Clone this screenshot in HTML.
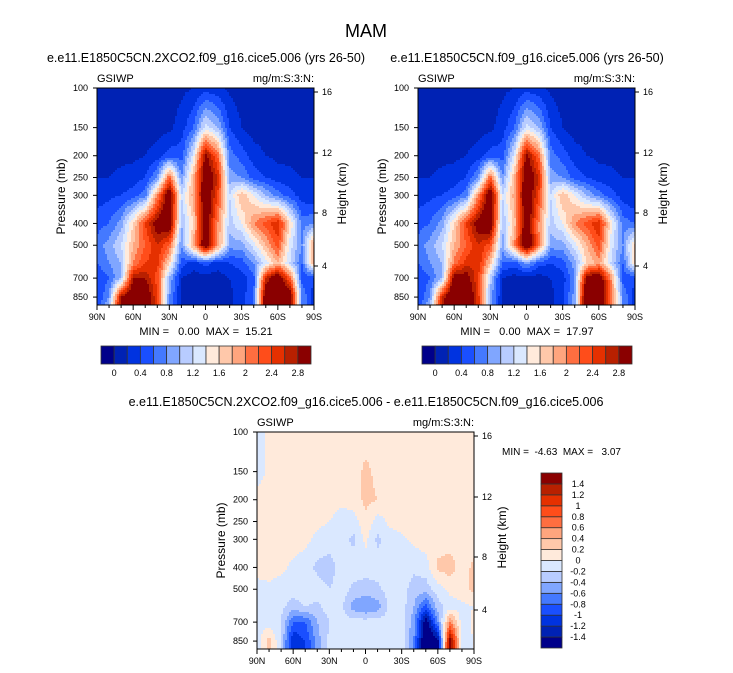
<!DOCTYPE html>
<html><head><meta charset="utf-8"><style>
body{margin:0;background:#fff;}
svg{display:block;font-family:"Liberation Sans",Helvetica,Arial,sans-serif;}
text{white-space:pre;}
</style></head><body>
<svg id="fig" width="733" height="673" viewBox="0 0 733 673" xmlns="http://www.w3.org/2000/svg">
<text x="366" y="37" font-size="18" text-anchor="middle">MAM</text>
</svg>
<script>
// ---- data ----
const latCols = [90,80,70,60,50,40,30,20,10,0,-10,-20,-30,-40,-50,-60,-70,-80,-90];
const presRows = [100,150,200,250,300,400,500,600,700,850,925];
const field1 = [
[.1,.1,.1,.1,.1,.1,.1,.15,.2,.3,.25,.15,.1,.1,.1,.1,.1,.1,.1],
[.1,.1,.1,.1,.1,.1,.15,.3,.6,1.3,1.0,.4,.2,.1,.1,.1,.1,.1,.1],
[.15,.15,.15,.15,.2,.3,.5,.5,1.3,2.9,2.2,.7,.5,.3,.2,.15,.15,.1,.1],
[.2,.2,.25,.3,.4,.8,2.2,.8,1.8,3.2,2.6,.9,.8,.5,.4,.3,.25,.2,.2],
[.3,.35,.4,.5,.7,2.0,3.2,1.2,1.9,3.2,2.4,1.2,1.8,1.4,1.0,.7,.5,.3,.2],
[.5,.6,.9,1.6,2.4,3.0,3.2,1.0,1.6,3.2,2.0,1.1,1.4,2.0,2.3,2.6,1.6,.7,.8],
[.7,.9,1.2,1.8,2.2,2.6,2.2,.8,1.9,3.2,2.0,.9,.9,1.3,1.8,2.3,1.3,.8,2.0],
[.6,.8,1.0,2.0,2.4,2.5,1.6,.5,.3,.5,.3,.4,.5,.8,1.3,1.8,1.2,.6,1.8],
[.4,.6,1.0,2.8,2.8,2.3,1.0,.2,.1,.1,.1,.2,.3,.5,2.6,3.2,2.2,.5,.4],
[.4,.8,2.8,3.2,3.2,2.4,.8,.2,.1,.1,.1,.15,.3,.6,3.2,3.4,3.2,.8,.3],
[.5,1.0,3.0,3.2,3.2,2.4,.8,.2,.1,.1,.1,.15,.3,.6,3.2,3.4,3.2,.8,.3]];
const field2 = [
[.1,.1,.1,.1,.1,.1,.1,.15,.2,.3,.25,.15,.1,.1,.1,.1,.1,.1,.1],
[.1,.1,.1,.1,.1,.1,.15,.3,.6,1.3,1.0,.4,.2,.1,.1,.1,.1,.1,.1],
[.15,.15,.15,.15,.2,.3,.5,.5,1.3,2.9,2.2,.7,.5,.3,.2,.15,.15,.1,.1],
[.2,.2,.25,.3,.4,.8,2.2,.8,1.8,3.2,2.6,.9,.8,.5,.4,.3,.25,.2,.2],
[.3,.35,.4,.5,.7,2.0,3.2,1.2,1.9,3.2,2.4,1.2,1.8,1.4,1.0,.7,.5,.3,.2],
[.5,.6,.9,1.6,2.4,3.0,3.2,1.0,1.7,3.2,2.0,1.1,1.4,2.0,2.3,2.6,1.5,.7,.6],
[.7,.9,1.2,1.8,2.2,2.6,2.3,.9,2.0,3.3,2.1,.9,.9,1.3,1.8,2.3,1.3,.8,1.7],
[.6,.8,1.0,2.1,2.5,2.6,1.7,.6,.5,.9,.5,.4,.5,.9,1.6,1.9,1.2,.6,1.6],
[.4,.6,1.0,3.0,3.0,2.4,1.1,.2,.1,.1,.1,.2,.3,.8,3.0,3.2,2.0,.5,.4],
[.4,.8,2.6,3.4,3.3,2.5,.9,.2,.1,.1,.1,.15,.3,.9,3.4,3.4,2.2,.8,.3],
[.5,1.0,2.8,3.4,3.3,2.5,.9,.2,.1,.1,.1,.15,.3,.9,3.4,3.4,2.2,.8,.3]];
const fieldDiff = [
[-.1,.05,.1,.1,.1,.1,.1,.1,.1,.1,.1,.1,.1,.1,.1,.1,.1,.1,.1],
[-.1,.05,.1,.1,.1,.1,.1,.1,.1,.25,.15,.1,.1,.1,.1,.1,.1,.1,.1],
[.1,.05,.1,.1,.1,.1,.1,.05,.1,.25,.2,.1,.1,.1,.1,.1,.1,.1,.1],
[.1,.1,.1,.1,.1,.05,0,-.1,-.1,.15,-.1,.05,.1,.1,.1,.1,.1,.1,.1],
[.1,.1,.1,.1,.05,-.05,-.1,-.1,-.25,.05,-.25,-.1,-.05,.05,.1,.1,.1,.1,.1],
[.1,.1,.05,-.05,-.1,-.25,-.3,-.1,-.1,-.1,-.1,-.1,-.1,-.15,-.1,.25,.3,.1,.25],
[-.1,-.05,-.1,-.1,-.1,-.1,-.2,-.1,-.25,-.3,-.25,-.1,-.1,-.3,-.3,-.1,.05,.1,.25],
[-.1,-.1,-.15,-.3,-.2,-.25,-.1,-.15,-.5,-.6,-.5,-.15,-.1,-.4,-.9,-.3,-.1,-.05,0],
[-.1,-.1,-.2,-.8,-.8,-.4,-.2,-.1,-.1,-.1,-.1,-.1,-.1,-.5,-1.6,-.6,.6,-.1,.05],
[-.1,.3,-.2,-1.2,-1.0,-.5,-.15,-.1,-.1,-.1,-.1,-.1,-.1,-.6,-1.8,-1.5,1.6,-.1,0],
[-.1,.3,-.2,-1.2,-1.0,-.5,-.15,-.1,-.1,-.1,-.1,-.1,-.1,-.6,-1.8,-1.5,1.6,-.1,0]];
const colors = ["#00008a","#0022b4","#0033e0","#1a4fff","#4479ff","#80a6ff","#b8ccff","#dae8ff","#ffeadb","#ffc8aa","#ffa57e","#ff6e40","#ff4d1a","#e53000","#b82000","#8a0000"];
const pTicks = [100,150,200,250,300,400,500,700,850];
const hTicks = [16,12,8,4];
const hTickPos = [4,65,125,178];
const xTickLabels = ["90N","60N","30N","0","30S","60S","90S"];
const topCbLabels = ["0","0.4","0.8","1.2","1.6","2","2.4","2.8"];
const diffCbLabels = ["1.4","1.2","1","0.8","0.6","0.4","0.2","0","-0.2","-0.4","-0.6","-0.8","-1","-1.2","-1.4"];

const NS="http://www.w3.org/2000/svg";
const svg=document.getElementById('fig');
const W=217,H=217,K=97.7;
function el(tag,attrs,parent){const e=document.createElementNS(NS,tag);for(const k in attrs)e.setAttribute(k,attrs[k]);(parent||svg).appendChild(e);return e;}
function txt(x,y,s,size,anchor,parent){const t=el('text',{x:x,y:y,'font-size':size,'text-anchor':anchor||'start'},parent);t.textContent=s;return t;}
function yOfP(p){return K*Math.log(p/100);}
function sample(grid,fx,py){
  const c=Math.max(0,Math.min(1,fx))*(latCols.length-1);const c0=Math.min(Math.floor(c),latCols.length-2);const tc=c-c0;
  const p=100*Math.exp(py/K);
  let r0=0;while(r0<presRows.length-2&&p>presRows[r0+1])r0++;
  const l0=Math.log(presRows[r0]),l1=Math.log(presRows[r0+1]);
  let tr=(Math.log(p)-l0)/(l1-l0);tr=Math.max(0,Math.min(1,tr));
  const a=grid[r0][c0]*(1-tc)+grid[r0][c0+1]*tc;
  const b=grid[r0+1][c0]*(1-tc)+grid[r0+1][c0+1]*tc;
  return a*(1-tr)+b*tr;
}
function idxTop(v){return v<0?0:Math.min(15,Math.floor(v/0.2+1e-9)+1);}
function idxDiff(v){return v<-1.4?0:Math.min(15,Math.floor((v+1.4)/0.2+1e-9)+1);}

function panel(ox,oy,grid,idxFn,name){
  const g=el('g',{});
  
  
  const step=2;
  for(let y=0;y<H;y+=step){
    let runStart=0,runIdx=-1;
    const hh=Math.min(step,H-y);
    for(let x=0;;x+=step){
      const done=x>=W;
      let idx=-2;
      if(!done){idx=idxFn(sample(grid,(x+step/2)/W,y+hh/2));}
      if(idx!==runIdx){
        if(runIdx>=0){
          const r=el('rect',{x:ox+runStart,y:oy+y,width:Math.min(x,W)-runStart+0.3,height:hh+0.3,fill:colors[runIdx]},g);
          
          
        }
        runStart=x;runIdx=idx;
      }
      if(done)break;
    }
  }
  el('rect',{x:ox,y:oy,width:W,height:H,fill:'none',stroke:'#000','stroke-width':1},g);
  pTicks.forEach(p=>{const y=oy+yOfP(p);
    el('line',{x1:ox-4,x2:ox,y1:y,y2:y,stroke:'#000'},g);
    const t=txt(ox-9,y+3,String(p),9,'end',g);
    });
  hTicks.forEach((h,i)=>{const y=oy+hTickPos[i];
    el('line',{x1:ox+W,x2:ox+W+4,y1:y,y2:y,stroke:'#000'},g);
    const t=txt(ox+W+8,y+3,String(h),9,'start',g);
    });
  for(let i=0;i<=18;i++){const x=ox+W*i/18;const major=i%3===0;
    el('line',{x1:x,x2:x,y1:oy+H,y2:oy+H+(major?5:3),stroke:'#000'},g);}
  xTickLabels.forEach((s,i)=>{const t=txt(ox+W*i/6,oy+H+15,s,9,'middle',g);
    });
  const yl=txt(0,0,'Pressure (mb)',12,'middle',g);
  yl.setAttribute('transform',`translate(${ox-32},${oy+H/2}) rotate(-90)`);
  
  const hl=txt(0,0,'Height (km)',12,'middle',g);
  hl.setAttribute('transform',`translate(${ox+W+32},${oy+H/2-3}) rotate(-90)`);
  
  const vl=txt(ox,oy-6,'GSIWP',11,'start',g);
  
  const ul=txt(ox+W,oy-6,'mg/m:S:3:N:',11,'end',g);
  
}
function hColorbar(x0,y0,name){
  const g=el('g',{});
  const bw=210/16;
  colors.forEach((c,i)=>{const r=el('rect',{x:x0+i*bw,y:y0,width:bw,height:18,fill:c,stroke:'#333','stroke-width':0.8},g);
    });
  topCbLabels.forEach((s,i)=>{const t=txt(x0+bw*(1+2*i),y0+30,s,9,'middle',g);
    });
}
function vColorbar(x0,y0){
  const g=el('g',{});
  const bh=175/16;
  colors.forEach((c,i)=>{const r=el('rect',{x:x0,y:y0+(15-i)*bh,width:21,height:bh,fill:c,stroke:'#333','stroke-width':0.8},g);
    });
  diffCbLabels.forEach((s,i)=>{const t=txt(x0+37,y0+bh*(i+1)+3,s,9,'middle',g);
    });
}
panel(97,88,field1,idxTop,'panel-2xco2');
panel(418,88,field2,idxTop,'panel-control');
panel(257,432,fieldDiff,idxDiff,'panel-difference');
hColorbar(101,346,'colorbar-2xco2');
hColorbar(422,346,'colorbar-control');
vColorbar(541,473);
let t;
t=txt(206,62,'e.e11.E1850C5CN.2XCO2.f09_g16.cice5.006 (yrs 26-50)',12.5,'middle');

t=txt(527,62,'e.e11.E1850C5CN.f09_g16.cice5.006 (yrs 26-50)',12.5,'middle');

t=txt(366,406,'e.e11.E1850C5CN.2XCO2.f09_g16.cice5.006 - e.e11.E1850C5CN.f09_g16.cice5.006',12.5,'middle');

t=txt(206,335,'MIN =   0.00  MAX =  15.21',11,'middle');

t=txt(527,335,'MIN =   0.00  MAX =  17.97',11,'middle');

t=txt(502,455,'MIN =  -4.63  MAX =   3.07',10,'start');

</script>
</body></html>
